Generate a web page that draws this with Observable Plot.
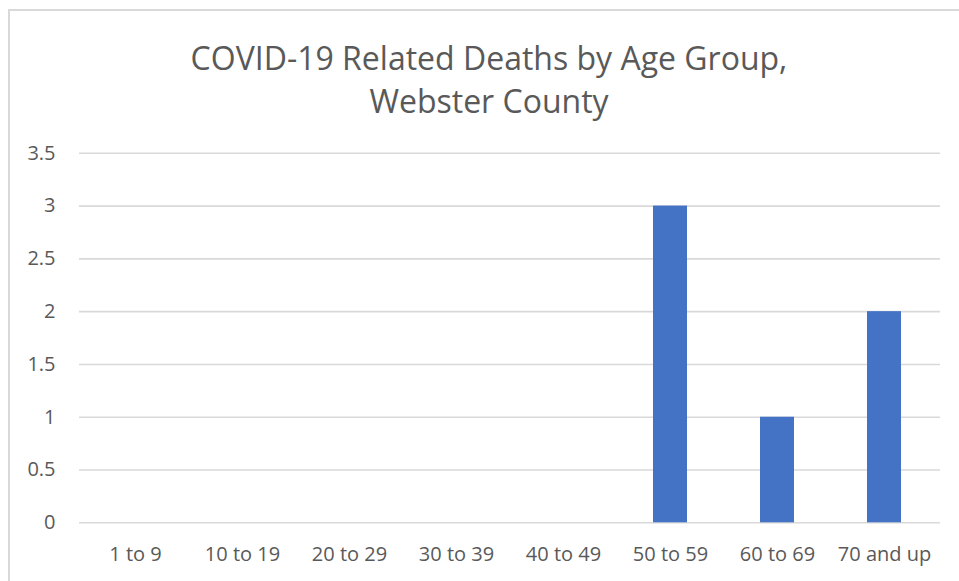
<!DOCTYPE html>
<html>
<head>
<meta charset="utf-8">
<script src="https://cdn.jsdelivr.net/npm/d3@7"></script>
<script src="https://cdn.jsdelivr.net/npm/@observablehq/plot@0.6"></script>
<style>
  html, body { margin: 0; padding: 0; background: #fff; }
  #wrap { position: relative; width: 959px; height: 581px; overflow: hidden; font-family: "Open Sans", sans-serif; }
  #frame { position: absolute; left: 8px; top: 9px; width: 1000px; height: 700px; border-left: 2px solid #d9d9d9; border-top: 2px solid #d9d9d9; z-index: 2; pointer-events: none; }
  #title { position: absolute; left: 0; top: 36px; width: 978px; text-align: center; font-size: 32px; line-height: 43px; color: #595959; }
  #chart { position: absolute; left: 0; top: 130px; }
</style>
</head>
<body>
<div id="wrap">
  <div id="frame"></div>
  <div id="title">COVID-19 Related Deaths by Age Group,<br>Webster County</div>
  <div id="chart"></div>
</div>
<script>
const categories = ["1 to 9", "10 to 19", "20 to 29", "30 to 39", "40 to 49", "50 to 59", "60 to 69", "70 and up"];
const deaths = [0, 0, 0, 0, 0, 3, 1, 2];
const yTicks = [0, 0.5, 1, 1.5, 2, 2.5, 3, 3.5];

const data = categories.map((c, i) => ({category: c, value: deaths[i]}));

const plot = Plot.plot({
  width: 959,
  height: 451,
  marginLeft: 79,
  marginRight: 19,
  marginTop: 22.8,
  marginBottom: 58.7,
  style: {background: "transparent", fontFamily: "'Open Sans', sans-serif", fontSize: "20px", color: "#595959"},
  x: {type: "band", domain: categories, paddingInner: 0.684, paddingOuter: 0.342, label: null},
  y: {domain: [0, 3.5], label: null},
  marks: [
    Plot.gridY(yTicks, {stroke: "#d9d9d9", strokeOpacity: 1, strokeWidth: 1.6}),
    Plot.barY(data, {x: "category", y: "value", fill: "#4472c4"}),
    Plot.axisY(yTicks, {tickSize: 0, tickPadding: 24, tickFormat: d => String(d), fill: "#595959", fontSize: 20, label: null}),
    Plot.axisX({tickSize: 0, tickPadding: 24, fill: "#595959", fontSize: 20, label: null})
  ]
});
document.getElementById("chart").appendChild(plot);
</script>
</body>
</html>
